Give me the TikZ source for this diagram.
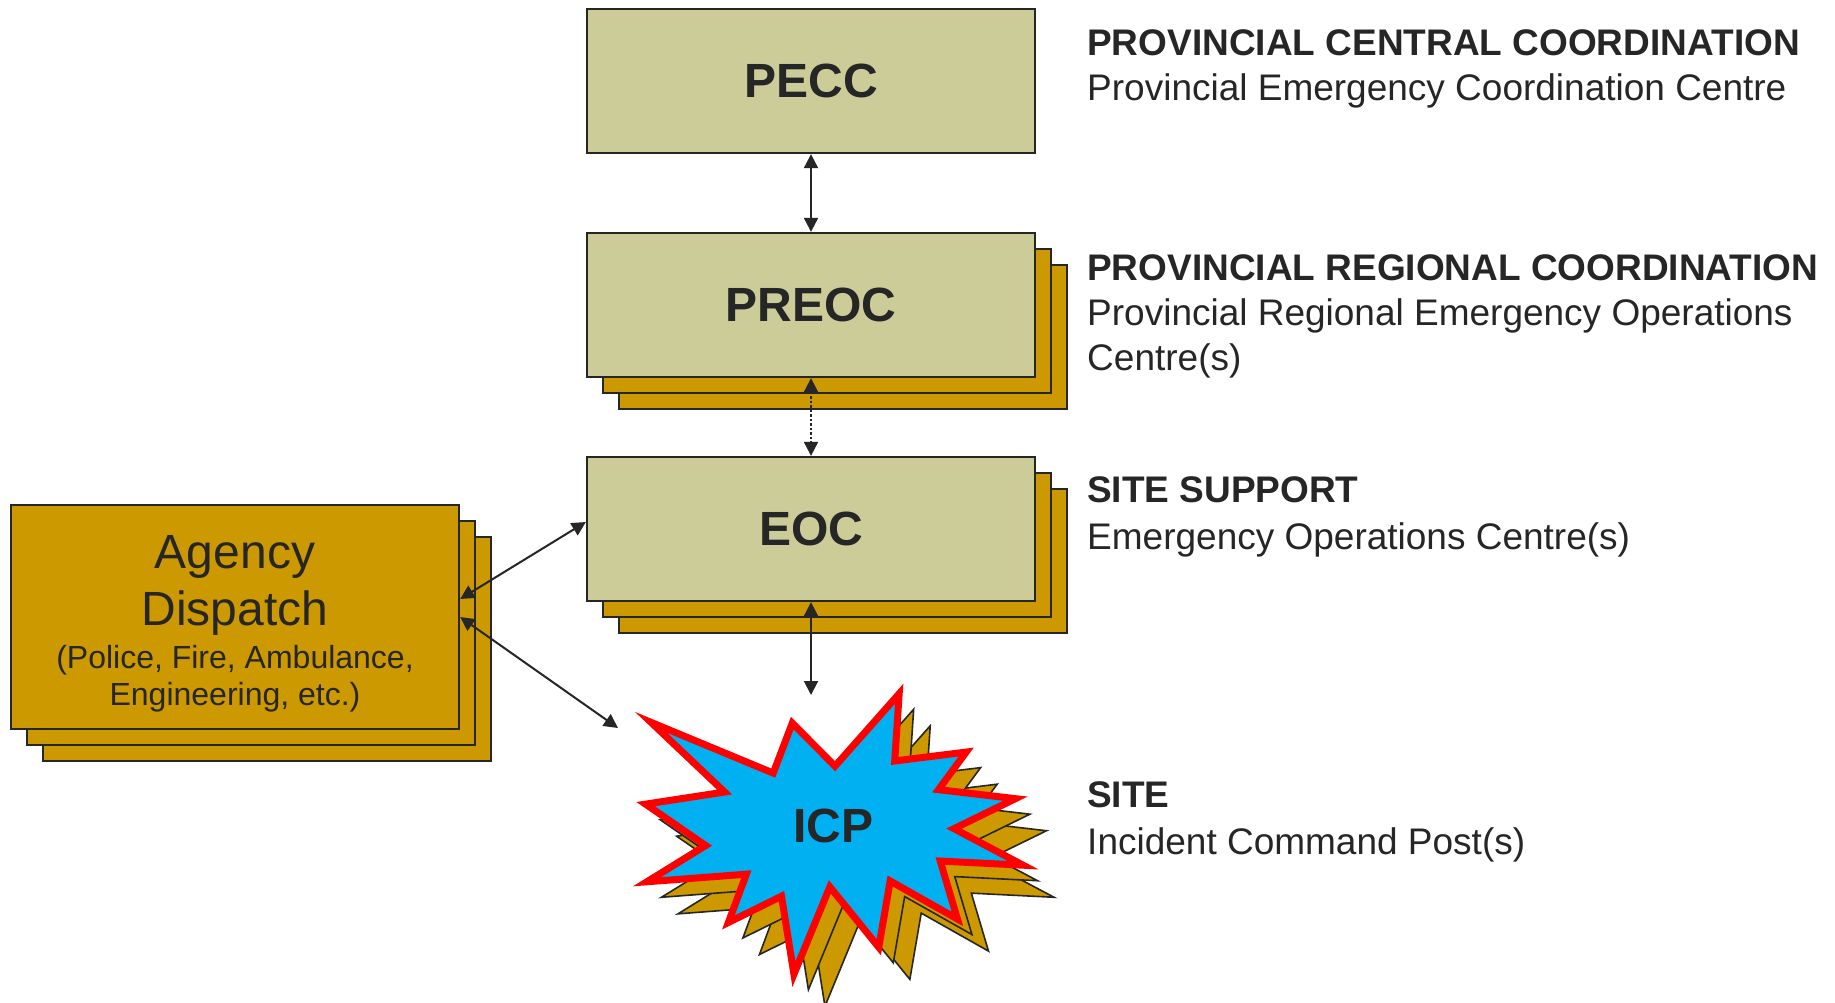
\documentclass[tikz,border=0pt]{standalone}
\usepackage{fontspec}
\setmainfont{Liberation Sans}
\usetikzlibrary{arrows.meta}
\definecolor{tanfill}{HTML}{CCCC99}
\definecolor{goldfill}{HTML}{CC9900}
\definecolor{ink}{HTML}{262626}
\definecolor{skyfill}{HTML}{00B0F0}
\definecolor{starred}{HTML}{FF0000}
\def\starshape{(897,698.3) -- (892.7,763.3) -- (961.7,754.7) -- (935,791) -- (1009.3,799.7) -- (950,828.7) -- (1016.7,864) -- (936.7,860) -- (953.3,916) -- (888.3,879.3) -- (877.3,943.3) -- (830,885) -- (795.3,969.3) -- (783.3,894) -- (732,919.3) -- (749.3,872.7) -- (653.3,880) -- (710,845) -- (652,805) -- (728.3,793.3) -- (657.3,726) -- (775.3,775) -- (793.7,726.7) -- (835,768.3) -- cycle}
\begin{document}
\begin{tikzpicture}[x=1pt,y=-1pt,
  box/.style={draw=ink, line width=2.3pt, fill=tanfill, minimum width=448pt, minimum height=144pt, inner sep=0pt, text=ink, font=\fontsize{48}{58}\selectfont\bfseries},
  agbox/.style={draw=ink, line width=2.3pt, fill=goldfill, minimum width=448pt, minimum height=224pt, inner sep=0pt},
  shadowbox/.style={draw=ink, line width=2.3pt, fill=goldfill},
  starshadow/.style={draw=ink, line width=1.6pt, fill=goldfill, line join=miter},
  conn/.style={draw=ink, line width=2pt, {Triangle[length=14pt,width=14pt]}-{Triangle[length=14pt,width=14pt]}},
  dotconn/.style={conn, dash pattern=on 2.5pt off 2pt},
  headtxt/.style={anchor=base west, inner sep=0pt, text=ink, font=\fontsize{37}{44}\selectfont\bfseries},
  subtxt/.style={anchor=base west, inner sep=0pt, text=ink, font=\fontsize{37}{44}\selectfont},
  agbig/.style={anchor=base, inner sep=0pt, text=ink, font=\fontsize{48}{58}\selectfont},
  agsmall/.style={anchor=base, inner sep=0pt, text=ink, font=\fontsize{32}{38}\selectfont}
]
\useasboundingbox[fill=white] (0,0) rectangle (1835,1002);

% PECC
\node[box] (pecc) at (811,81) {PECC};

% PREOC with stacked copies
\draw[shadowbox] (619,265) rectangle (1067,409);
\draw[shadowbox] (603,249) rectangle (1051,393);
\node[box] (preoc) at (811,305) {PREOC};

% EOC with stacked copies
\draw[shadowbox] (619,489) rectangle (1067,633);
\draw[shadowbox] (603,473) rectangle (1051,617);
\node[box] (eoc) at (811,529) {EOC};

% Agency Dispatch with stacked copies
\draw[shadowbox] (43,537) rectangle (491,761);
\draw[shadowbox] (27,521) rectangle (475,745);
\node[agbox] (agency) at (235,617) {};
\node[agbig] (ag1) at (235,568) {Agency};
\node[agbig] (ag2) at (235,625) {Dispatch};
\node[agsmall] (ag3) at (235,668) {(Police, Fire, Ambulance,};
\node[agsmall] (ag4) at (235,705) {Engineering, etc.)};

% ICP star with stacked copies
\begin{scope}[shift={(835,830)}, scale=1.035, shift={(-835,-830)}]
  \begin{scope}[shift={(30,31)}]
    \draw[starshadow] \starshape;
  \end{scope}
  \begin{scope}[shift={(14,15)}]
    \draw[starshadow] \starshape;
  \end{scope}
  \draw[draw=starred, fill=skyfill, line width=7pt, line join=miter, miter limit=20] \starshape;
\end{scope}
\node[inner sep=0pt, text=ink, font=\fontsize{48}{58}\selectfont\bfseries] (icp) at (833,826) {ICP};

\coordinate (icptop) at (811,695);
\coordinate (icpleft) at (618,728);

% connectors
\draw[conn] (pecc.south) -- (preoc.north);
\draw[dotconn] (preoc.south) -- (eoc.north);
\draw[conn] (eoc.south) -- (icptop);
\draw[conn] ([yshift=18pt]agency.east) -- ([yshift=7pt]eoc.west);
\draw[conn] (agency.east) -- (icpleft);

% right-hand labels
\node[headtxt] (h1) at (1087,55) {PROVINCIAL CENTRAL COORDINATION};
\node[subtxt] (s1) at (1087,100) {Provincial Emergency Coordination Centre};
\node[headtxt] (h2) at (1087,280) {PROVINCIAL REGIONAL COORDINATION};
\node[subtxt] (s2a) at (1087,325) {Provincial Regional Emergency Operations};
\node[subtxt] (s2b) at (1087,370) {Centre(s)};
\node[headtxt] (h3) at (1087,502) {SITE SUPPORT};
\node[subtxt] (s3) at (1087,549) {Emergency Operations Centre(s)};
\node[headtxt] (h4) at (1087,807) {SITE};
\node[subtxt] (s4) at (1087,854) {Incident Command Post(s)};
\end{tikzpicture}
\end{document}
